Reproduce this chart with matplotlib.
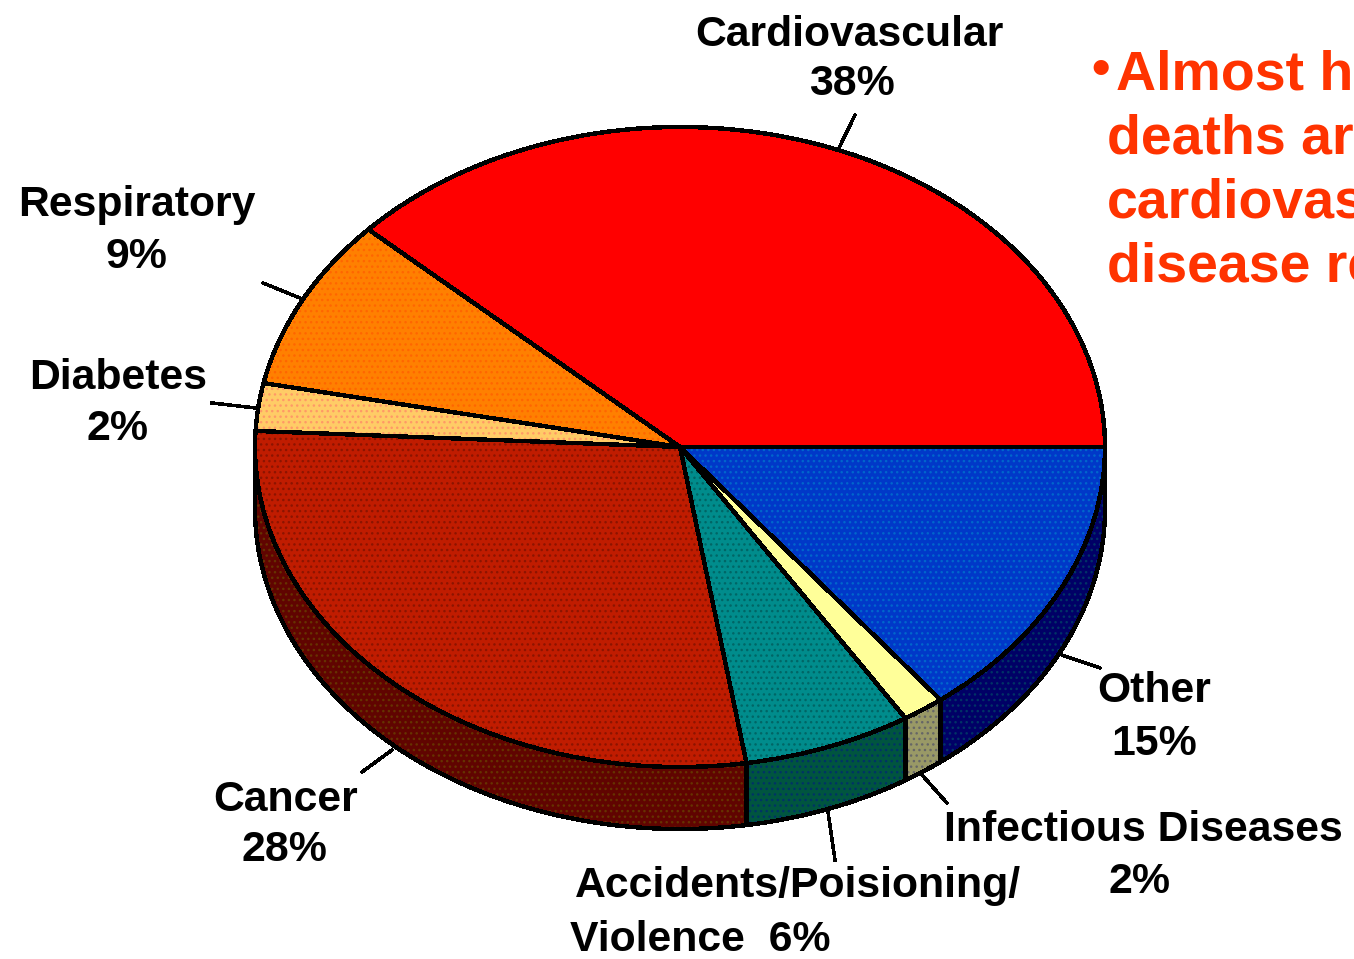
import numpy as np
import matplotlib
matplotlib.use('Agg')
import matplotlib.pyplot as plt

categories = ['Cardiovascular', 'Respiratory', 'Diabetes', 'Cancer',
              'Accidents/Poisioning/Violence', 'Infectious Diseases', 'Other']
shares = [38.1, 8.7, 2.4, 28.3, 6.4, 1.6, 14.5]

top_colors = ['#ff0000', '#ff8000', '#ffcc66', '#c01c00', '#008c8c', '#ffff99', '#0038c8']
top_dither = ['#ff0000', '#ff6600', '#ff9966', '#8c1400', '#006666', '#ffff99', '#0066cc']
side_colors = ['#800000', '#804000', '#806633', '#600400', '#00553f', '#999966', '#000066']
side_dither = ['#800000', '#804000', '#806633', '#663300', '#003366', '#666666', '#003366']

W, H = 1354, 959
CX, CY, RX, RY, DEPTH = 680, 447, 425, 320, 62

plt.rcParams['font.family'] = ['Liberation Sans', 'DejaVu Sans']
plt.rcParams['hatch.linewidth'] = 1.0

fig = plt.figure(figsize=(W / 100, H / 100), dpi=100, facecolor='white')

# unit circle pie squashed into an ellipse by the axis limits
ax = fig.add_axes([0, 0, 1, 1])
drop = DEPTH / RY

# side wall, only the front half of the pie shows it
edges = np.cumsum([0] + shares) / sum(shares) * 360
for i in range(len(shares)):
    start = max(edges[i], 180)
    end = edges[i + 1]
    if end <= start:
        continue
    t = np.radians(np.linspace(start, end, 120))
    xs = np.concatenate([np.cos(t), np.cos(t[::-1])])
    ys = np.concatenate([np.sin(t), np.sin(t[::-1]) - drop])
    ax.fill(xs, ys, facecolor=side_colors[i], edgecolor=side_dither[i], hatch='...',
            lw=0, antialiased=False)
    ax.fill(xs, ys, fill=False, edgecolor='black', lw=2.4, antialiased=False)

wedges, _ = ax.pie(shares, colors=top_colors, startangle=0, counterclock=True, radius=1,
                   wedgeprops=dict(lw=0, antialiased=False))
for w, c, f in zip(wedges, top_dither, top_colors):
    if c != f:
        w.set_edgecolor(c)
        w.set_hatch('...')

ax.pie(shares, startangle=0, counterclock=True, radius=1,
       wedgeprops=dict(fill=False, edgecolor='black', lw=2.4, antialiased=False))

ax.set_aspect('auto')
ax.set_xlim(-CX / RX, (W - CX) / RX)
ax.set_ylim(-(H - CY) / RY, CY / RY)
ax.axis('off')

# overlay in pixel coords for labels and leader lines
ov = fig.add_axes([0, 0, 1, 1], facecolor='none')
ov.set_xlim(0, W)
ov.set_ylim(H, 0)
ov.axis('off')

labels = [
    ('Cardiovascular', 849, 35), ('38%', 852, 84),
    ('Respiratory', 137, 205), ('9%', 136, 257),
    ('Diabetes', 118, 378), ('2%', 118, 429),
    ('Other', 1154, 691), ('15%', 1154, 744),
    ('Cancer', 286, 800), ('28%', 284, 850),
    ('Infectious Diseases', 1143, 830), ('2%', 1140, 882),
    ('Accidents/Poisioning/', 798, 886), ('Violence  6%', 700, 940),
]
for txt, x, y in labels:
    ov.text(x, y, txt, ha='center', va='center', fontsize=30.8, fontweight='bold', color='black')

leaders = [
    ((855, 838), (115, 150)), ((263, 300), (283, 298)), ((212, 256), (403, 408)),
    ((1062, 1100), (655, 668)), ((362, 392), (772, 750)), ((828, 835), (812, 860)),
    ((922, 947), (775, 803)),
]
for xs, ys in leaders:
    ov.plot(xs, ys, color='black', lw=1.8, antialiased=False)

# right hand text runs off the slide in the original
ov.text(1091, 71, '\u2022', ha='left', va='center', fontsize=38, fontweight='bold', color='#ff3300')
ov.text(1116, 89, 'Almost half', ha='left', va='baseline', fontsize=40, fontweight='bold', color='#ff3300', clip_on=True)
ov.text(1107, 153, 'deaths are', ha='left', va='baseline', fontsize=40, fontweight='bold', color='#ff3300', clip_on=True)
ov.text(1107, 217, 'cardiovascular', ha='left', va='baseline', fontsize=40, fontweight='bold', color='#ff3300', clip_on=True)
ov.text(1107, 281, 'disease related', ha='left', va='baseline', fontsize=40, fontweight='bold', color='#ff3300', clip_on=True)

fig.savefig('out.png', dpi=100, facecolor='white')
